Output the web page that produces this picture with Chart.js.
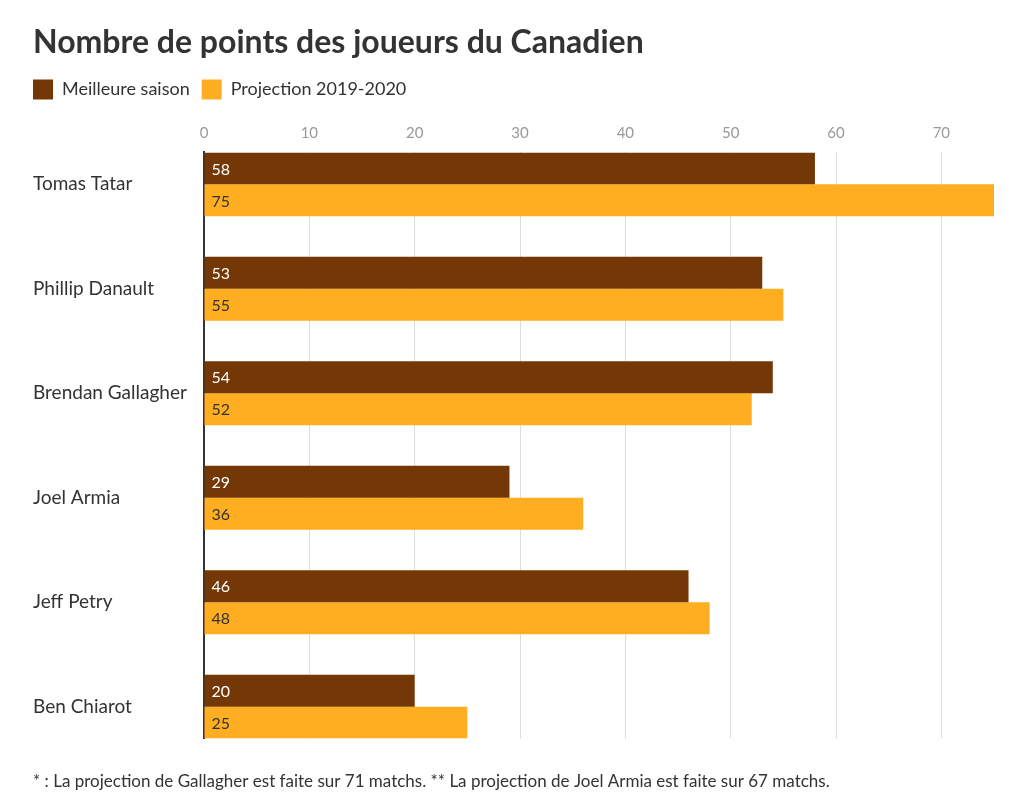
<!DOCTYPE html>
<html>
<head>
<meta charset="utf-8">
<script src="https://cdn.jsdelivr.net/npm/chart.js@4/dist/chart.umd.min.js"></script>
<style>
  html, body { margin: 0; padding: 0; background: #fff; }
  #wrap { width: 1017px; height: 800px; }
</style>
</head>
<body>
<div id="wrap"><canvas id="chart"></canvas></div>
<script>
const players = ['Tomas Tatar', 'Phillip Danault', 'Brendan Gallagher', 'Joel Armia', 'Jeff Petry', 'Ben Chiarot'];
const bestSeason = [58, 53, 54, 29, 46, 20];
const projection = [75, 55, 52, 36, 48, 25];
const xTicks = [0, 10, 20, 30, 40, 50, 60, 70];

const brown = '#743706';
const orange = '#FFAE22';
const ink = '#333333';

// y axis is linear so the bars can touch the top and bottom of the plot
const toPoints = vals => vals.map((v, i) => ({x: v, y: i}));

const valueLabels = {
  id: 'valueLabels',
  afterDatasetsDraw(chart) {
    const ctx = chart.ctx;
    ctx.save();
    ctx.font = '16px Lato';
    ctx.textBaseline = 'middle';
    ctx.textAlign = 'left';
    chart.data.datasets.forEach((ds, di) => {
      const meta = chart.getDatasetMeta(di);
      meta.data.forEach((bar, i) => {
        ctx.fillStyle = di === 0 ? '#ffffff' : ink;
        ctx.fillText(ds.data[i].x, bar.base + 7, bar.y + 1);
      });
    });
    ctx.restore();
  }
};

// pull the legend flush with the title
const legendShift = {
  id: 'legendShift',
  afterLayout(chart) {
    chart.legend.left -= 12;
    chart.legend.right -= 12;
  }
};

new Chart(document.getElementById('chart'), {
  type: 'bar',
  data: {
    datasets: [{
      label: 'Meilleure saison',
      data: toPoints(bestSeason),
      backgroundColor: brown
    }, {
      label: 'Projection 2019-2020',
      data: toPoints(projection),
      backgroundColor: orange
    }]
  },
  options: {
    indexAxis: 'y',
    responsive: true,
    maintainAspectRatio: false,
    animation: false,
    categoryPercentage: 0.612,
    barPercentage: 1,
    layout: {
      padding: {left: 33, right: 23, top: 23, bottom: 8}
    },
    scales: {
      x: {
        position: 'top',
        min: 0,
        max: 75,
        afterBuildTicks: axis => { axis.ticks = xTicks.map(v => ({value: v})); },
        afterFit: axis => { axis.height += 5; },
        ticks: {
          color: '#999999',
          font: {family: 'Lato', size: 15},
          padding: 10
        },
        grid: {color: '#dddddd', drawTicks: false},
        border: {display: false}
      },
      y: {
        type: 'linear',
        reverse: true,
        offset: false,
        min: -0.306,
        max: 5.306,
        afterBuildTicks: axis => { axis.ticks = players.map((p, i) => ({value: i})); },
        afterFit: axis => { axis.width = 171; },
        ticks: {
          color: ink,
          font: {family: 'Lato', size: 19},
          crossAlign: 'far',
          padding: 10,
          callback: v => players[v]
        },
        grid: {display: false},
        border: {display: true, color: ink, width: 2}
      }
    },
    plugins: {
      title: {
        display: true,
        text: 'Nombre de points des joueurs du Canadien',
        align: 'start',
        color: ink,
        font: {family: 'Lato', size: 32, weight: 'bold'},
        padding: {top: 0, bottom: 6}
      },
      subtitle: {
        display: true,
        position: 'bottom',
        text: '* : La projection de Gallagher est faite sur 71 matchs. ** La projection de Joel Armia est faite sur 67 matchs.',
        align: 'start',
        color: ink,
        font: {family: 'Lato', size: 17},
        padding: {top: 33, bottom: 0}
      },
      legend: {
        position: 'top',
        align: 'start',
        labels: {
          boxWidth: 20,
          boxHeight: 20,
          color: ink,
          font: {family: 'Lato', size: 18},
          padding: 12
        }
      },
      tooltip: {enabled: false}
    }
  },
  plugins: [valueLabels, legendShift]
});
</script>
</body>
</html>
